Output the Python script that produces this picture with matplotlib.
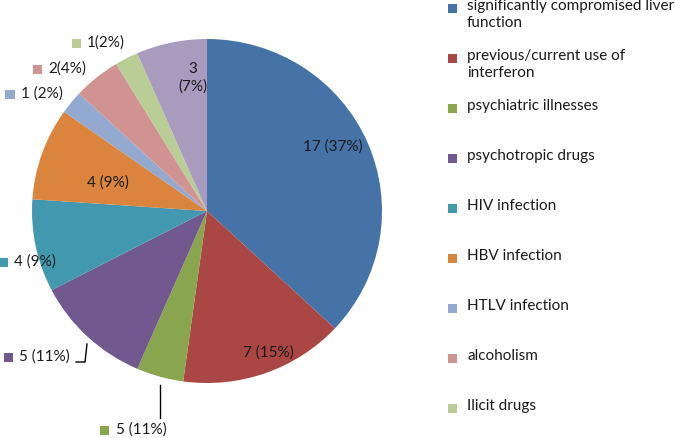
import matplotlib
matplotlib.use("Agg")
import matplotlib.pyplot as plt
from matplotlib.patches import Rectangle

categories = ["significantly compromised liver\nfunction", "previous/current use of\ninterferon",
              "psychiatric illnesses", "psychotropic drugs", "HIV infection", "HBV infection",
              "HTLV infection", "alcoholism", "Ilicit drugs"]
values = [17, 7, 2, 5, 4, 4, 1, 2, 1, 3]
slice_labels = ["17 (37%)", "7 (15%)", "5 (11%)", "5 (11%)", "4 (9%)", "4 (9%)",
                "1 (2%)", "2(4%)", "1(2%)", "3\n(7%)"]
colors = ["#4572A7", "#AA4643", "#89A54E", "#71588F", "#4198AF", "#DB843D",
          "#93A9CF", "#D19392", "#B9CD96", "#A99BBD"]

W, H = 675, 438
fig = plt.figure(figsize=(W / 100, H / 100), dpi=100)
plt.rcParams['font.family'] = ['Lato', 'DejaVu Sans']

cx, cy, rx, ry = 207, 211, 175, 172
ax = fig.add_axes([(cx - rx) / W, (H - cy - ry) / H, 2 * rx / W, 2 * ry / H])
ax.pie(values, colors=colors, startangle=90, counterclock=False, radius=1,
       wedgeprops=dict(linewidth=0))
ax.set_xlim(-1, 1)
ax.set_ylim(-1, 1)
ax.set_aspect('auto')
ax.axis('off')

def fx(x):
    return x / W

def fy(y):
    return 1 - y / H

fs = 11
tc = '#1a1a1a'
# inside labels
inside = {0: (333, 147), 1: (268, 353), 5: (108, 183), 9: (193, 78)}
for i, (x, y) in inside.items():
    fig.text(fx(x), fy(y), slice_labels[i], ha='center', va='center', fontsize=fs,
             color=tc, linespacing=1.35)

# outside labels with color squares: (square x, y)
outside = {8: (76, 43), 7: (37, 69), 6: (10, 94), 4: (3, 262), 3: (8, 357), 2: (105, 430)}
sq = 9
for i, (x, y) in outside.items():
    fig.patches.append(Rectangle((fx(x - sq / 2), fy(y + sq / 2)), sq / W, sq / H,
                                 transform=fig.transFigure, facecolor=colors[i],
                                 edgecolor='none'))
    fig.text(fx(x + 11), fy(y), slice_labels[i], ha='left', va='center', fontsize=fs,
             color=tc)

# leader lines
fig.add_artist(plt.Line2D([fx(87), fx(85), fx(76)], [fy(344), fy(362), fy(362)],
                          transform=fig.transFigure, color='black', linewidth=1))
fig.add_artist(plt.Line2D([fx(160), fx(160)], [fy(385), fy(418)],
                          transform=fig.transFigure, color='black', linewidth=1))

# legend
ly0 = 8
for k, cat in enumerate(categories):
    y = ly0 + 50 * k
    fig.patches.append(Rectangle((fx(453 - sq / 2), fy(y + sq / 2)), sq / W, sq / H,
                                 transform=fig.transFigure, facecolor=colors[k],
                                 edgecolor='none'))
    fig.text(fx(467), fy(y - 9), cat, ha='left', va='top', fontsize=fs,
             color=tc, linespacing=1.3)

fig.savefig("out.png", dpi=100, facecolor='white')
